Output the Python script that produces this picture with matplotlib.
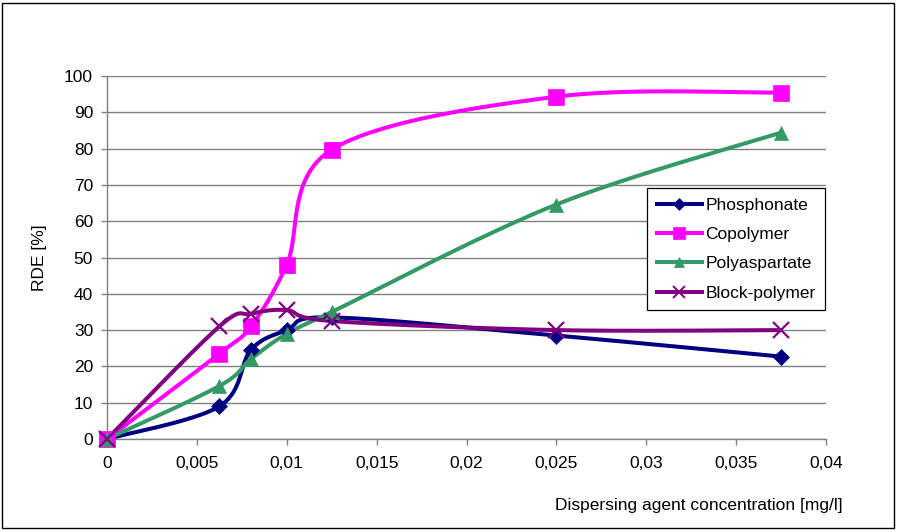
import numpy as np
import matplotlib.pyplot as plt
from matplotlib.patches import Rectangle
from matplotlib.ticker import FuncFormatter, MultipleLocator

plt.rcParams['font.family'] = ['Liberation Sans', 'DejaVu Sans']

conc = [0, 0.00625, 0.008, 0.01, 0.0125, 0.025, 0.0375]
phosphonate = [0, 9, 24.5, 30, 33.5, 28.5, 22.7]
copolymer = [0, 23.5, 31, 48, 79.7, 94.3, 95.4]
polyaspartate = [0, 14.6, 22, 29, 35, 64.6, 84.4]
block_polymer = [0, 31, 34.5, 35.5, 32.5, 30, 30]

series_names = ['Phosphonate', 'Copolymer', 'Polyaspartate', 'Block-polymer']
series_values = [phosphonate, copolymer, polyaspartate, block_polymer]
colors = ['#000080', '#FF00FF', '#339966', '#800080']
markers = ['D', 's', '^', 'x']
msizes = [8, 11, 10, 11]

FS = 12.5
W, H = 897, 532
fig = plt.figure(figsize=(W / 100, H / 100), dpi=100)
ax = fig.add_axes([107 / W, 1 - 439 / H, 719 / W, 363 / H])

# smoothed line like a spreadsheet chart: cubic Bezier with 1/6 tangents,
# worked out in screen units so the curve shape follows the plot aspect
sx, sy = 719 / 0.04, 363 / 100.0


def smooth(xs, ys, n=40):
    p = np.column_stack([np.asarray(xs) * sx, np.asarray(ys) * sy])
    pts = []
    for i in range(len(p) - 1):
        p0 = p[max(i - 1, 0)]
        p1, p2 = p[i], p[i + 1]
        p3 = p[min(i + 2, len(p) - 1)]
        c1 = p1 + (p2 - p0) / 6
        c2 = p2 - (p3 - p1) / 6
        t = np.linspace(0, 1, n)[:, None]
        seg = ((1 - t) ** 3 * p1 + 3 * (1 - t) ** 2 * t * c1
               + 3 * (1 - t) * t ** 2 * c2 + t ** 3 * p2)
        pts.append(seg if i == 0 else seg[1:])
    pts = np.vstack(pts)
    return pts[:, 0] / sx, pts[:, 1] / sy


for name, vals, c, m, ms in zip(series_names, series_values, colors, markers, msizes):
    cx, cy = smooth(conc, vals)
    ax.plot(cx, cy, color=c, lw=2.9, solid_capstyle='round', zorder=3,
            clip_on=False)
    ax.plot(conc, vals, linestyle='none', marker=m, color=c, markersize=ms,
            markeredgewidth=1.6 if m == 'x' else 0.5, zorder=4, clip_on=False)
    # proxy for the legend entry
    ax.plot([], [], color=c, lw=2.9, marker=m, markersize=ms * 0.75,
            markeredgewidth=1.4 if m == 'x' else 0.5, label=name)

ax.set_xlim(0, 0.04)
ax.set_ylim(0, 100)
ax.xaxis.set_major_locator(MultipleLocator(0.005))
ax.yaxis.set_major_locator(MultipleLocator(10))


def comma_fmt(v, pos):
    s = ('%.3f' % v).rstrip('0').rstrip('.')
    return s.replace('.', ',')


ax.xaxis.set_major_formatter(FuncFormatter(comma_fmt))
ax.yaxis.grid(True, color='#808080', lw=1.0, zorder=0)
ax.set_axisbelow(True)
for side in ['top', 'right']:
    ax.spines[side].set_visible(False)
for side in ['left', 'bottom']:
    ax.spines[side].set_color('#808080')
    ax.spines[side].set_linewidth(1.0)
ax.tick_params(axis='both', direction='out', length=4, width=1.0,
               color='#808080', labelsize=FS, labelcolor='black')
ax.tick_params(axis='x', pad=8)
ax.tick_params(axis='y', pad=6)

ax.set_ylabel('RDE [%]', fontsize=FS)
ax.yaxis.set_label_coords(-60 / 719, 0.5)
ax.set_xlabel('Dispersing agent concentration [mg/l]', fontsize=FS, ha='right')
ax.xaxis.set_label_coords((843 - 107) / 719, -59 / 363)

leg = ax.legend(loc='upper left', bbox_to_anchor=(647 / W, 1 - 188 / H),
                bbox_transform=fig.transFigure, fontsize=FS, frameon=True,
                fancybox=False, framealpha=1, edgecolor='black',
                handlelength=2.6, handletextpad=0.2, labelspacing=0.82,
                borderpad=0.55, borderaxespad=0)
leg.get_frame().set_linewidth(0.9)

# outer chart border
fig.patches.append(Rectangle((2 / W, 4 / H), 892 / W, 525 / H,
                             transform=fig.transFigure, fill=False,
                             edgecolor='black', lw=1.0))

fig.savefig('out.png', dpi=100)
